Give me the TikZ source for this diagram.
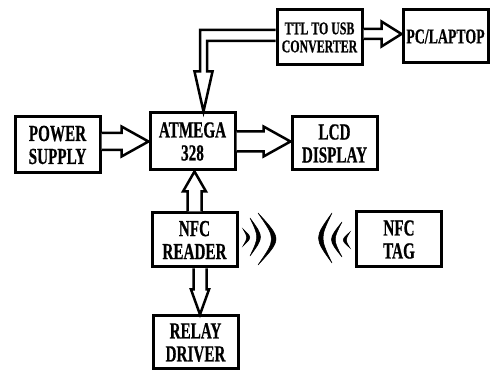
\documentclass[tikz,border=0pt]{standalone}
\usepackage{fontspec}
\setmainfont{Liberation Serif}[BoldFeatures={FakeBold=0.8}]
\usetikzlibrary{calc}
\newcommand\sq[1]{\scalebox{0.66}[1]{#1}}
\begin{document}
\begin{tikzpicture}[x=1pt,y=-1pt,
  box/.style={draw,line width=3pt,minimum width=85pt,minimum height=55pt,inner sep=0pt,align=center,font=\bfseries\fontsize{23}{23}\selectfont},
  barrow/.style={draw,line width=2.5pt,fill=white,line join=miter},
  wave/.style={fill=black,draw=black,line width=0.5pt}]
\useasboundingbox (0,0) rectangle (491,371);
\fill[white] (0,0) rectangle (491,371);
% blocks
\node[box,minimum height=55pt,font=\bfseries\fontsize{18}{18}\selectfont] (ttl) at (319.5,37.5) {\sq{TTL TO USB}\\\sq{CONVERTER}};
\node[box,minimum height=53pt,font=\bfseries\fontsize{21}{21}\selectfont] (pc) at (445.5,36.5) {\sq{PC/LAPTOP}};
\node[box,minimum height=56pt] (power) at (57.5,145) {\sq{POWER}\\\sq{SUPPLY}};
\node[box,minimum height=57pt] (atm) at (192.5,141.5) {\sq{ATMEGA}\\\sq{328}};
\node[box,minimum height=53pt] (lcd) at (334.5,143.5) {\sq{LCD}\\\sq{DISPLAY}};
\node[box,minimum height=54pt] (reader) at (194.5,240) {\sq{NFC}\\\sq{READER}};
\node[box,minimum height=55pt] (tag) at (399,239.5) {\sq{NFC}\\\sq{TAG}};
\node[box,minimum height=53pt] (relay) at (195.5,342.5) {\sq{RELAY}\\\sq{DRIVER}};
% block arrows
\draw[barrow] let \p1=(power.east), \p2=(atm.west) in
  (\x1,\y2+8.5pt) -- (\x2-27pt,\y2+8.5pt) -- (\x2-27pt,\y2+15pt) -- (\x2,\y2)
  -- (\x2-27pt,\y2-15pt) -- (\x2-27pt,\y2-8.5pt) -- (\x1,\y2-8.5pt);
\draw[barrow] let \p1=(atm.east), \p2=(lcd.west) in
  (\x1,\y1+10pt) -- (\x2-27pt,\y1+10pt) -- (\x2-27pt,\y1+15pt) -- (\x2,\y1)
  -- (\x2-27pt,\y1-15pt) -- (\x2-27pt,\y1-10pt) -- (\x1,\y1-10pt);
\draw[barrow] let \p1=(reader.north), \p2=(atm.south) in
  (\x1-7pt,\y1) -- (\x1-7pt,\y2-20pt) -- (\x1-11.5pt,\y2-20pt) -- (\x1,\y2)
  -- (\x1+11.5pt,\y2-20pt) -- (\x1+7pt,\y2-20pt) -- (\x1+7pt,\y1);
\draw[barrow] let \p1=(reader.south), \p2=(relay.north) in
  (\x1-1pt,\y1) -- (\x1-1pt,\y2+25pt) -- (\x1-3.5pt,\y2+25pt) -- (\x1+5.5pt,\y2)
  -- (\x1+14.5pt,\y2+25pt) -- (\x1+12pt,\y2+25pt) -- (\x1+12pt,\y1);
\draw[barrow] let \p1=(ttl.west), \p2=(atm.north) in
  (\x1,\y1+7.5pt) -- (\x2+7.5pt,\y1+7.5pt) -- (\x2+7.5pt,\y2+40pt) -- (\x2+2pt,\y2+40pt)
  -- (\x2+11pt,\y2) -- (\x2+20pt,\y2+40pt) -- (\x2+14.5pt,\y2+40pt)
  -- (\x2+14.5pt,\y1-3.5pt) -- (\x1,\y1-3.5pt);
\draw[barrow] let \p1=(ttl.east), \p2=(pc.west) in
  (\x1,\y1+8.5pt) -- (\x2-20pt,\y1+8.5pt) -- (\x2-20pt,\y1+16pt) -- (\x2,\y1+3.5pt)
  -- (\x2-20pt,\y1-9pt) -- (\x2-20pt,\y1-1.5pt) -- (\x1,\y1-1.5pt);
% NFC waves (reader)
\fill[wave] (243,229) .. controls (252,237.5) .. (243,246) .. controls (248,237.5) .. (243,229) -- cycle;
\fill[wave] (250,218) .. controls (264,237) .. (250,256) .. controls (259,237) .. (250,218) -- cycle;
\fill[wave] (258,213) .. controls (282,239) .. (258,265) .. controls (276,239) .. (258,213) -- cycle;
% NFC waves (tag)
\fill[wave] (350,232) .. controls (341,240) .. (350,248) .. controls (345,240) .. (350,232) -- cycle;
\fill[wave] (342,222) .. controls (328,239.5) .. (342,257) .. controls (333,239.5) .. (342,222) -- cycle;
\fill[wave] (332,213) .. controls (314,238) .. (332,263) .. controls (320,238) .. (332,213) -- cycle;
\end{tikzpicture}
\end{document}
